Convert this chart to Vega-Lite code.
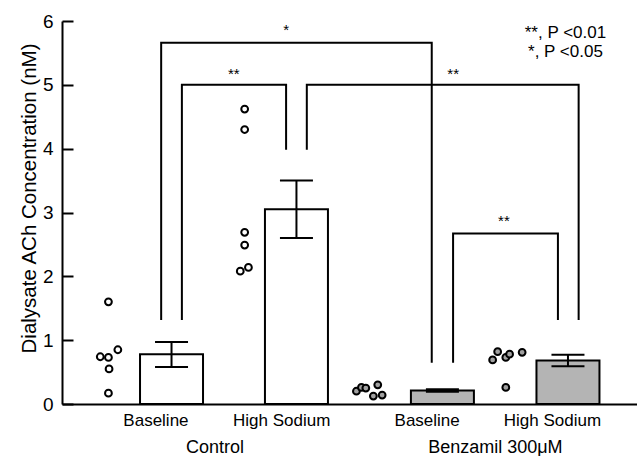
{
  "$schema": "https://vega.github.io/schema/vega-lite/v6.json",
  "width": 575,
  "height": 383,
  "autosize": "none",
  "padding": {"left": 62, "top": 21, "right": 0, "bottom": 52},
  "background": "white",
  "config": {
    "view": {"stroke": null},
    "font": "Liberation Sans",
    "axis": {
      "grid": false,
      "domainColor": "black",
      "domainWidth": 2,
      "labelColor": "black",
      "titleColor": "black",
      "labelFont": "Liberation Sans",
      "titleFont": "Liberation Sans"
    }
  },
  "datasets": {
    "bars": [
      {"group": "Control", "condition": "Baseline", "pos": 1.665, "mean": 0.78, "lo": 0.58, "hi": 0.97},
      {"group": "Control", "condition": "High Sodium", "pos": 3.655, "mean": 3.05, "lo": 2.60, "hi": 3.50},
      {"group": "Benzamil 300μM", "condition": "Baseline", "pos": 5.98, "mean": 0.21, "lo": 0.19, "hi": 0.23},
      {"group": "Benzamil 300μM", "condition": "High Sodium", "pos": 7.98, "mean": 0.68, "lo": 0.59, "hi": 0.77}
    ],
    "points": [
      {"group": "Control", "condition": "Baseline", "pos": 0.66, "value": 1.60},
      {"group": "Control", "condition": "Baseline", "pos": 0.53, "value": 0.74},
      {"group": "Control", "condition": "Baseline", "pos": 0.66, "value": 0.73},
      {"group": "Control", "condition": "Baseline", "pos": 0.81, "value": 0.85},
      {"group": "Control", "condition": "Baseline", "pos": 0.67, "value": 0.55},
      {"group": "Control", "condition": "Baseline", "pos": 0.66, "value": 0.17},
      {"group": "Control", "condition": "High Sodium", "pos": 2.83, "value": 4.62},
      {"group": "Control", "condition": "High Sodium", "pos": 2.83, "value": 4.30},
      {"group": "Control", "condition": "High Sodium", "pos": 2.83, "value": 2.69},
      {"group": "Control", "condition": "High Sodium", "pos": 2.83, "value": 2.49},
      {"group": "Control", "condition": "High Sodium", "pos": 2.76, "value": 2.08},
      {"group": "Control", "condition": "High Sodium", "pos": 2.89, "value": 2.14},
      {"group": "Benzamil 300μM", "condition": "Baseline", "pos": 4.61, "value": 0.20},
      {"group": "Benzamil 300μM", "condition": "Baseline", "pos": 4.69, "value": 0.26},
      {"group": "Benzamil 300μM", "condition": "Baseline", "pos": 4.76, "value": 0.25},
      {"group": "Benzamil 300μM", "condition": "Baseline", "pos": 4.95, "value": 0.30},
      {"group": "Benzamil 300μM", "condition": "Baseline", "pos": 4.88, "value": 0.125},
      {"group": "Benzamil 300μM", "condition": "Baseline", "pos": 5.02, "value": 0.14},
      {"group": "Benzamil 300μM", "condition": "High Sodium", "pos": 6.78, "value": 0.69},
      {"group": "Benzamil 300μM", "condition": "High Sodium", "pos": 6.86, "value": 0.82},
      {"group": "Benzamil 300μM", "condition": "High Sodium", "pos": 6.99, "value": 0.73},
      {"group": "Benzamil 300μM", "condition": "High Sodium", "pos": 7.05, "value": 0.78},
      {"group": "Benzamil 300μM", "condition": "High Sodium", "pos": 7.25, "value": 0.81},
      {"group": "Benzamil 300μM", "condition": "High Sodium", "pos": 6.99, "value": 0.26}
    ],
    "brackets": [
      {"id": "A", "ord": 1, "pos": 1.5, "value": 1.33},
      {"id": "A", "ord": 2, "pos": 1.5, "value": 5.66},
      {"id": "A", "ord": 3, "pos": 5.81, "value": 5.66},
      {"id": "A", "ord": 4, "pos": 5.81, "value": 0.66},
      {"id": "B", "ord": 1, "pos": 1.83, "value": 1.33},
      {"id": "B", "ord": 2, "pos": 1.83, "value": 5.0},
      {"id": "B", "ord": 3, "pos": 3.49, "value": 5.0},
      {"id": "B", "ord": 4, "pos": 3.49, "value": 4.0},
      {"id": "C", "ord": 1, "pos": 3.82, "value": 4.0},
      {"id": "C", "ord": 2, "pos": 3.82, "value": 5.0},
      {"id": "C", "ord": 3, "pos": 8.15, "value": 5.0},
      {"id": "C", "ord": 4, "pos": 8.15, "value": 1.33},
      {"id": "D", "ord": 1, "pos": 6.15, "value": 0.66},
      {"id": "D", "ord": 2, "pos": 6.15, "value": 2.67},
      {"id": "D", "ord": 3, "pos": 7.82, "value": 2.67},
      {"id": "D", "ord": 4, "pos": 7.82, "value": 1.33}
    ],
    "stars": [
      {"label": "*", "pos": 3.49, "value": 5.78},
      {"label": "**", "pos": 2.656, "value": 5.09},
      {"label": "**", "pos": 6.151, "value": 5.09},
      {"label": "**", "pos": 6.96, "value": 2.79}
    ],
    "notes": [
      {"label": "**, P <0.01", "pos": 7.94, "value": 5.73},
      {"label": "*, P <0.05", "pos": 7.94, "value": 5.44}
    ]
  },
  "resolve": {
    "axis": {"x": "independent"},
    "scale": {"fill": "independent"}
  },
  "layer": [
    {
      "data": {"name": "bars"},
      "mark": {"type": "bar", "orient": "vertical", "size": 63, "stroke": "black", "strokeWidth": 2},
      "encoding": {
        "x": {
          "field": "pos", "type": "quantitative",
          "scale": {"domain": [0, 9], "nice": false, "zero": false},
          "axis": {
            "orient": "bottom", "title": null, "ticks": false, "domain": true,
            "values": [1.409, 3.412, 5.729, 7.724],
            "labelExpr": "datum.value < 2 ? 'Baseline' : datum.value < 4.5 ? 'High Sodium' : datum.value < 6.5 ? 'Baseline' : 'High Sodium'",
            "labelFontSize": 17, "labelPadding": 8, "labelOverlap": false, "labelFlush": false, "labelBound": false
          }
        },
        "y": {
          "field": "mean", "type": "quantitative",
          "scale": {"domain": [0, 6], "nice": false},
          "axis": {
            "orient": "right", "offset": -575, "zindex": 1,
            "title": "Dialysate ACh Concentration (nM)",
            "values": [0, 0.5, 1, 1.5, 2, 2.5, 3, 3.5, 4, 4.5, 5, 5.5, 6],
            "labelExpr": "datum.value % 1 === 0 ? format(datum.value, 'd') : ''",
            "ticks": true, "tickSize": 11, "tickColor": "black", "tickWidth": 2, "tickOpacity": 1,
            "domain": true, "labelAlign": "right", "labelPadding": -20, "labelFontSize": 19, "labelOverlap": false,
            "titleFontSize": 20.5, "titleFontWeight": "normal", "titleAngle": 270,
            "titleX": -33, "titleY": 177, "titleAlign": "center", "titleBaseline": "middle"
          }
        },
        "fill": {
          "field": "group", "type": "nominal",
          "scale": {"domain": ["Control", "Benzamil 300μM"], "range": ["white", "#b4b4b4"]},
          "legend": null
        }
      }
    },
    {
      "data": {"name": "bars"},
      "mark": {"type": "rule", "color": "black", "strokeWidth": 2},
      "encoding": {
        "x": {"field": "pos", "type": "quantitative", "axis": null},
        "y": {"field": "lo", "type": "quantitative"},
        "y2": {"field": "hi"}
      }
    },
    {
      "data": {"name": "bars"},
      "mark": {"type": "tick", "orient": "horizontal", "size": 33, "thickness": 2, "color": "black", "opacity": 1},
      "encoding": {
        "x": {"field": "pos", "type": "quantitative", "axis": null},
        "y": {"field": "lo", "type": "quantitative"}
      }
    },
    {
      "data": {"name": "bars"},
      "mark": {"type": "tick", "orient": "horizontal", "size": 33, "thickness": 2, "color": "black", "opacity": 1},
      "encoding": {
        "x": {"field": "pos", "type": "quantitative", "axis": null},
        "y": {"field": "hi", "type": "quantitative"}
      }
    },
    {
      "data": {"name": "points"},
      "mark": {"type": "point", "shape": "circle", "filled": true, "size": 46, "stroke": "black", "strokeWidth": 2, "opacity": 1},
      "encoding": {
        "x": {"field": "pos", "type": "quantitative", "axis": null},
        "y": {"field": "value", "type": "quantitative"},
        "fill": {
          "field": "group", "type": "nominal",
          "scale": {"domain": ["Control", "Benzamil 300μM"], "range": ["white", "#a0a0a0"]},
          "legend": null
        }
      }
    },
    {
      "data": {"name": "brackets"},
      "mark": {"type": "line", "color": "black", "strokeWidth": 2, "strokeCap": "square"},
      "encoding": {
        "x": {"field": "pos", "type": "quantitative", "axis": null},
        "y": {"field": "value", "type": "quantitative"},
        "detail": {"field": "id"},
        "order": {"field": "ord"}
      }
    },
    {
      "data": {"name": "stars"},
      "mark": {"type": "text", "fontSize": 15, "align": "center", "baseline": "alphabetic", "color": "black"},
      "encoding": {
        "x": {"field": "pos", "type": "quantitative", "axis": null},
        "y": {"field": "value", "type": "quantitative"},
        "text": {"field": "label"}
      }
    },
    {
      "data": {"name": "notes"},
      "mark": {"type": "text", "fontSize": 17, "align": "center", "baseline": "alphabetic", "color": "black"},
      "encoding": {
        "x": {
          "field": "pos", "type": "quantitative",
          "axis": {
            "orient": "bottom", "title": null, "ticks": false, "domain": false, "offset": 26,
            "values": [2.348, 6.816],
            "labelExpr": "datum.value < 4 ? 'Control' : 'Benzamil 300μM'",
            "labelFontSize": 18, "labelPadding": 8, "labelOverlap": false, "labelFlush": false, "labelBound": false
          }
        },
        "y": {"field": "value", "type": "quantitative"},
        "text": {"field": "label"}
      }
    }
  ]
}
